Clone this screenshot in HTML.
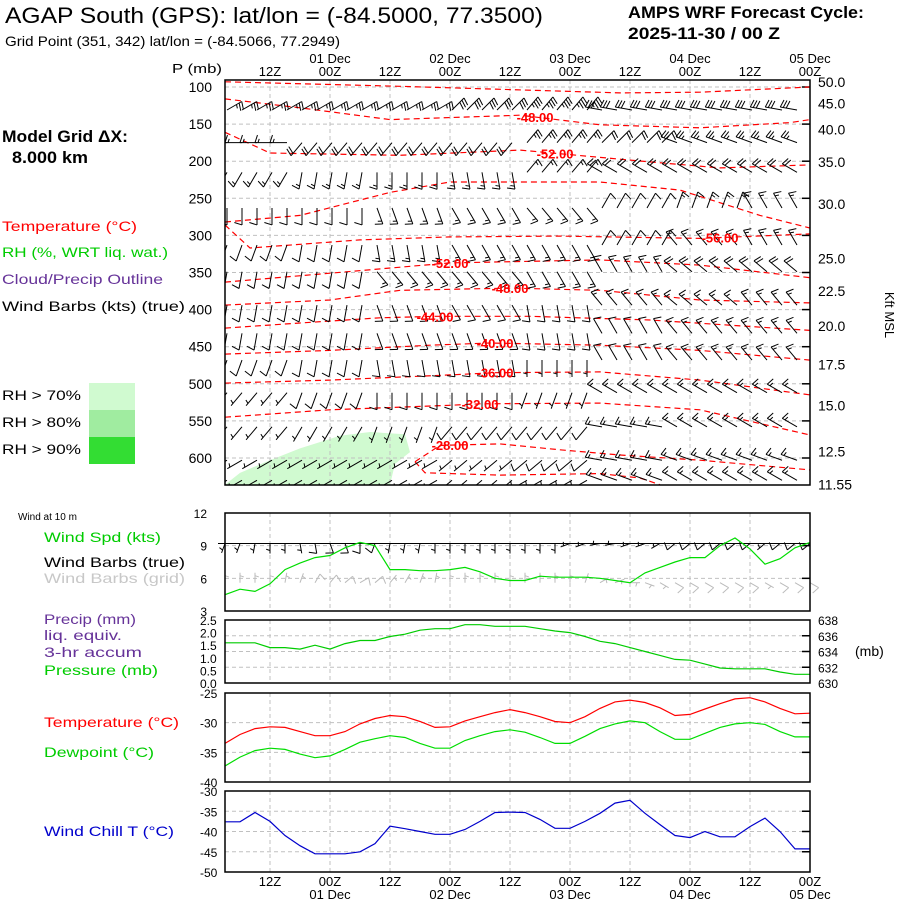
<!DOCTYPE html>
<html><head><meta charset="utf-8"><style>
html,body{margin:0;padding:0;background:#fff;}
svg{display:block;font-family:"Liberation Sans",sans-serif;}
</style></head><body>
<svg id="c" width="900" height="900" viewBox="0 0 900 900" xmlns="http://www.w3.org/2000/svg">
<defs><clipPath id="pclip"><rect x="225" y="80" width="585" height="405"/></clipPath></defs>
<rect width="900" height="900" fill="#fff"/>
<text x="5" y="23" font-size="22" textLength="538" lengthAdjust="spacingAndGlyphs">AGAP South (GPS):  lat/lon = (-84.5000, 77.3500)</text>
<text x="5" y="46" font-size="14" textLength="335" lengthAdjust="spacingAndGlyphs">Grid Point (351, 342) lat/lon = (-84.5066, 77.2949)</text>
<text x="628" y="18" font-size="17" font-weight="bold" textLength="236" lengthAdjust="spacingAndGlyphs">AMPS WRF Forecast Cycle:</text>
<text x="628" y="39" font-size="17" font-weight="bold" textLength="152" lengthAdjust="spacingAndGlyphs">2025-11-30 / 00  Z</text>
<text x="2" y="142" font-size="17" font-weight="bold" textLength="126" lengthAdjust="spacingAndGlyphs">Model Grid ΔX:</text>
<text x="12" y="163" font-size="17" font-weight="bold" textLength="76" lengthAdjust="spacingAndGlyphs">8.000 km</text>
<text x="2" y="231" font-size="14" fill="#ff0000" textLength="135" lengthAdjust="spacingAndGlyphs">Temperature (°C)</text>
<text x="2" y="257" font-size="14" fill="#00cc00" textLength="166" lengthAdjust="spacingAndGlyphs">RH (%, WRT liq. wat.)</text>
<text x="2" y="284" font-size="14" fill="#663399" textLength="161" lengthAdjust="spacingAndGlyphs">Cloud/Precip Outline</text>
<text x="2" y="311" font-size="14" textLength="183" lengthAdjust="spacingAndGlyphs">Wind Barbs (kts) (true)</text>
<g>
<text x="2" y="400" font-size="14" textLength="79" lengthAdjust="spacingAndGlyphs">RH &gt; 70%</text>
<text x="2" y="427" font-size="14" textLength="79" lengthAdjust="spacingAndGlyphs">RH &gt; 80%</text>
<text x="2" y="454" font-size="14" textLength="79" lengthAdjust="spacingAndGlyphs">RH &gt; 90%</text>
<rect x="89" y="383" width="46" height="27" fill="#d0fad0"/>
<rect x="89" y="410" width="46" height="27" fill="#a0eca0"/>
<rect x="89" y="437" width="46" height="27" fill="#33dd33"/>
</g>
<text x="172" y="73" font-size="13" textLength="50" lengthAdjust="spacingAndGlyphs">P (mb)</text>
<text x="885" y="315" font-size="13" transform="rotate(90 885 315)" text-anchor="middle">Kft MSL</text>
<text x="855" y="656" font-size="14">(mb)</text>
<text x="18" y="520" font-size="10">Wind at 10 m</text>
<text x="44" y="542" font-size="14" fill="#00cc00" textLength="117" lengthAdjust="spacingAndGlyphs">Wind Spd (kts)</text>
<text x="44" y="567" font-size="14" textLength="141" lengthAdjust="spacingAndGlyphs">Wind Barbs (true)</text>
<text x="44" y="583" font-size="14" fill="#c8c8c8" textLength="141" lengthAdjust="spacingAndGlyphs">Wind Barbs (grid)</text>
<text x="44" y="624" font-size="14" fill="#663399" textLength="92" lengthAdjust="spacingAndGlyphs">Precip (mm)</text>
<text x="44" y="640" font-size="14" fill="#663399" textLength="78" lengthAdjust="spacingAndGlyphs">liq. equiv.</text>
<text x="44" y="657" font-size="14" fill="#663399" textLength="98" lengthAdjust="spacingAndGlyphs">3-hr accum</text>
<text x="44" y="675" font-size="14" fill="#00cc00" textLength="114" lengthAdjust="spacingAndGlyphs">Pressure (mb)</text>
<text x="44" y="727" font-size="14" fill="#ff0000" textLength="135" lengthAdjust="spacingAndGlyphs">Temperature (°C)</text>
<text x="44" y="757" font-size="14" fill="#00cc00" textLength="110" lengthAdjust="spacingAndGlyphs">Dewpoint (°C)</text>
<text x="44" y="836" font-size="14" fill="#0000cc" textLength="130" lengthAdjust="spacingAndGlyphs">Wind Chill T (°C)</text>
<g id="layer"></g>
</svg>
<script>
// ---- data ----
const hours = [3,6,9,12,15,18,21,24,27,30,33,36,39,42,45,48,51,54,57,60,63,66,69,72,75,78,81,84,87,90,93,96,99,102,105,108,111,114,117,120];
const windSpd = [4.5,5.0,4.8,5.5,6.8,7.4,7.9,8.1,8.8,9.3,9.0,6.8,6.8,6.7,6.7,6.8,7.0,6.6,6.0,5.8,5.8,6.2,6.1,6.1,6.1,6.0,5.8,5.6,6.5,7.0,7.5,7.9,7.9,9.0,9.7,8.7,7.3,7.8,8.8,9.3];
const sfcPres = [635.1,635.1,635.1,634.5,634.5,634.3,634.8,634.3,635.0,635.4,635.4,635.9,636.2,636.7,636.9,636.9,637.4,637.4,637.2,637.2,637.2,636.9,636.6,636.4,635.9,635.3,635.0,634.5,634.0,633.5,633.0,632.9,632.4,631.9,631.8,631.8,631.8,631.4,631.1,631.1];
const sfcTemp = [-33.5,-32,-31,-30.7,-30.8,-31.5,-32.2,-32.2,-31.5,-30.2,-29.3,-28.8,-29,-29.8,-30.8,-30.7,-29.7,-29,-28.3,-27.8,-28.3,-29,-29.8,-30,-29,-27.6,-26.5,-26.2,-26.6,-27.5,-28.8,-28.6,-27.7,-26.8,-26,-25.8,-26.5,-27.6,-28.5,-28.4];
const sfcDew = [-37.3,-35.8,-34.7,-34.3,-34.5,-35.3,-35.9,-35.6,-34.5,-33.3,-32.7,-32.2,-32.5,-33.5,-34.3,-34.3,-33,-32.2,-31.5,-31.2,-31.6,-32.5,-33.5,-33.5,-32.3,-31,-30.2,-29.7,-30,-31.5,-32.8,-32.8,-31.8,-30.8,-30.2,-30,-30.3,-31.5,-32.4,-32.4];
const windChill = [-37.6,-37.6,-35.3,-37.5,-41,-43.5,-45.5,-45.5,-45.5,-45,-43,-38.7,-39.3,-40,-40.7,-40.7,-39.5,-37.5,-35.3,-35.2,-35.3,-37,-39.2,-39.2,-37.5,-35.5,-33,-32.3,-35.5,-38.3,-41,-41.5,-40,-41.3,-41.3,-38.8,-36.7,-40,-44.3,-44.3];
const sfcBarbDir = [200,200,190,180,180,170,170,160,160,180,200,190,190,190,180,180,180,180,180,180,180,180,180,250,250,260,260,250,250,240,230,230,230,230,230,230,230,230,230,230];
const gridBarbDir = [0,0,0,0,10,20,30,40,50,60,50,40,30,20,10,0,0,0,0,0,0,0,0,0,20,60,70,90,110,120,120,120,120,120,120,120,120,120,120,120];
const pLabels = [100,150,200,250,300,350,400,450,500,550,600];
const kftLabels = ["50.0","45.0","40.0","35.0","30.0","25.0","22.5","20.0","17.5","15.0","12.5","11.55"];
const kftPres = [93,122,157,201,258,331,375,422,474,529,591,636];
const contourLevels = ["","-48.00","-52.00","","-56.00","-52.00","-48.00","-44.00","-40.00","-36.00","-32.00","-28.00",""];
const contourT = [[3,38,82,98,120],[3,18,36,62,78,98,116,120],[3,12,38,62,88,102,120],[3,18,36,48,78,94,110,120],[3,8,30,48,70,98,120],[3,24,48,78,98,120],[3,24,38,60,78,98,120],[3,18,34,45,64,88,120],[3,24,44,56,78,98,120],[3,24,48,57,78,98,120],[3,24,48,54,78,98,120],[41,46,58,70,82,98,120],[41,43,58,78,86,90]];
const contourP = [[93,99,108,107,100],[116,128,144,138,151,155,148,144],[161,189,192,185,201,209,205],[282,273,242,228,228,239,273,290],[286,317,306,302,301,304,298],[363,351,337,333,340,357],[394,387,374,371,374,387,391],[425,418,411,409,409,414,428],[460,455,448,445,448,455,468],[499,495,488,485,484,495,515],[545,535,529,527,526,535,569],[605,583,581,589,596,603,616],[605,620,623,621,627,636]];
const labelT = [0,65,69,0,102,48,60,45,57,57,54,48,0];
const rhT = [3,6,12,18,26,32,39,40,37,36,3];
const rhP = [636,620,603,587,570,565,568,592,608,636,636];
const barbRowP = [131,175,215,263,313,349,394,432,468,512,558,603,630];
const barbRowDir = [[60,60,60,45,40,280,280,280],[270,220,220,220,40,45,290,290],[210,190,180,170,40,300,300,300],[180,180,160,150,140,30,20,330],[200,190,170,150,150,30,320,330],[190,190,140,140,150,330,310,310],[190,190,160,150,170,320,310,320],[190,190,160,160,170,330,320,320],[200,190,170,170,180,330,320,320],[220,200,180,180,200,300,300,300],[220,210,200,220,220,280,300,300],[240,240,240,230,230,280,290,290],[240,240,240,230,240,290,300,300]];
const barbRowSpd = [[25,25,25,30,35,30,30,30],[15,20,20,20,25,20,25,25],[15,15,15,15,15,20,20,20],[10,10,15,15,15,10,15,15],[10,10,15,15,15,10,15,15],[10,10,15,15,15,15,20,20],[10,10,10,10,10,15,15,15],[10,10,10,10,10,10,15,15],[10,10,10,10,5,10,15,15],[5,10,10,10,5,15,15,15],[5,5,5,10,10,15,15,15],[5,5,5,5,10,15,15,15],[5,5,5,5,10,15,15,15]];
const tickHours = [12,24,36,48,60,72,84,96,108,120];
const tickNames = ["12Z","00Z","12Z","00Z","12Z","00Z","12Z","00Z","12Z","00Z"];
const dayHours = [24,48,72,96,120];
const dayNames = ["01 Dec","02 Dec","03 Dec","04 Dec","05 Dec"];

// ---- helpers ----
const NS="http://www.w3.org/2000/svg";
const L=document.getElementById('layer');
function mk(tag,attrs,parent){const e=document.createElementNS(NS,tag);for(const k in attrs)e.setAttribute(k,attrs[k]);(parent||L).appendChild(e);return e;}
const X0=225,X1=810;
function xs(t){return X0+(t-3)*(X1-X0)/117;}
function lin(v,v0,v1,y0,y1){return y0+(v-v0)*(y1-y0)/(v1-v0);}
const P={top:80,bot:485};
function yp(p){return lin(p,100,600,87,458);}
const panels={
 wind:{top:513,bot:611,v0:3,v1:12},
 pres:{top:620,bot:683,v0:630,v1:638},
 temp:{top:693,bot:782,v0:-40,v1:-25},
 chill:{top:791,bot:872,v0:-50,v1:-30}
};
function yv(pn,v){const q=panels[pn];return lin(v,q.v0,q.v1,q.bot,q.top);}

function vgrid(top,bot,name){
  tickHours.forEach(h=>{const l=mk('line',{x1:xs(h),x2:xs(h),y1:top,y2:bot,stroke:'#c0c0c0','stroke-dasharray':'4,3'});
  
  });
}
function hgrid(y,name){const l=mk('line',{x1:X0,x2:X1,y1:y,y2:y,stroke:'#c0c0c0','stroke-dasharray':'4,3'});
  
  
  mk('line',{x1:X1-8,x2:X1,y1:y,y2:y,stroke:'#000','stroke-width':1.5});}
function frame(top,bot,name){const r=mk('rect',{x:X0,y:top,width:X1-X0,height:bot-top,fill:'none',stroke:'#000','stroke-width':1.5});
  
  }
function txt(x,y,s,attrs,name){const t=mk('text',Object.assign({x:x,y:y,'font-size':13},attrs||{}));t.textContent=s;
  
  return t;}
function line(ts,vs,fy,color,name,parent){const d=ts.map((t,i)=>(i?'L':'M')+xs(t).toFixed(1)+' '+fy(vs[i]).toFixed(1)).join(' ');
  const p=mk('path',{d:d,fill:'none',stroke:color,'stroke-width':1.2},parent);
  
  return p;}

function barb(x,y,dir,spd,color,len,g){
  const r=dir*Math.PI/180, dx=Math.sin(r), dy=-Math.cos(r);
  const ex=x+dx*len, ey=y+dy*len;
  mk('line',{x1:x,y1:y,x2:ex,y2:ey,stroke:color,'stroke-width':1},g);
  const fr=r+Math.PI*0.6, fx=Math.sin(fr), fy=-Math.cos(fr);
  let s=Math.round(spd/5)*5, pos=0;
  while(s>=10){const bx=ex-dx*pos,by=ey-dy*pos;mk('line',{x1:bx,y1:by,x2:bx+fx*8,y2:by+fy*8,stroke:color,'stroke-width':1},g);pos+=3;s-=10;}
  if(s>=5){if(pos===0)pos=3;const bx=ex-dx*pos,by=ey-dy*pos;mk('line',{x1:bx,y1:by,x2:bx+fx*4,y2:by+fy*4,stroke:color,'stroke-width':1},g);}
}

// ---- top panel ----
const rh=mk('polygon',{points:rhT.map((t,i)=>xs(t)+','+Math.min(485,yp(rhP[i]))).join(' '),fill:'#d0fad0'});


vgrid(P.top,P.bot,'profile');
pLabels.forEach(p=>{hgrid(yp(p),'profile');txt(212,yp(p)+5,String(p),{'text-anchor':'end','font-size':14},'pressure-tick-label');});
kftLabels.forEach((s,i)=>txt(818,yp(kftPres[i])+5,s,{'font-size':14},'kft-tick-label'));
tickHours.forEach((h,i)=>{txt(xs(h),76,tickNames[i],{'text-anchor':'middle','font-size':13},'top-hour-label');});
dayHours.forEach((h,i)=>txt(xs(h),63,dayNames[i],{'text-anchor':'middle','font-size':13},'top-day-label'));

const cg=mk('g',{'clip-path':'url(#pclip)'});


contourT.forEach((ts,i)=>{
  const p=line(ts,contourP[i],v=>yp(v),'#ff0000','temp-contour',cg);
  p.setAttribute('stroke-dasharray','6,4');
});
const bg=mk('g',{'clip-path':'url(#pclip)'});


barbRowP.forEach((p,ri)=>{
  hours.forEach(t=>{const k=Math.min(7,Math.floor((t-3)/15));
    if(t>117) return;
    barb(xs(t)+2,yp(p),barbRowDir[ri][k],barbRowSpd[ri][k],'#000',17,bg);});
});
contourLevels.forEach((s,i)=>{
  if(!s) return;
  const t=labelT[i]; const ts=contourT[i], ps=contourP[i];
  let p=ps[0]; for(let j=1;j<ts.length;j++){if(t<=ts[j]){p=ps[j-1]+(ps[j]-ps[j-1])*(t-ts[j-1])/(ts[j]-ts[j-1]);break;}}
  txt(xs(t),yp(p)+5,s,{'text-anchor':'middle','font-size':13,'font-weight':'bold',fill:'#ff0000'},'contour-label');
});
frame(P.top,P.bot,'profile');

// ---- wind panel ----
vgrid(panels.wind.top,panels.wind.bot,'wind');
[6,9].forEach(v=>hgrid(yv('wind',v),'wind'));
[12,9,6,3].forEach(v=>txt(207,yv('wind',v)+5,String(v),{'text-anchor':'end','font-size':12},'wind-tick-label'));
const gb=mk('g',{});


hours.forEach((t,i)=>barb(xs(t),yv('wind',5.6),gridBarbDir[i],windSpd[i],'#bbbbbb',10,gb));
const sb=mk('g',{});


mk('line',{x1:218,x2:X1,y1:yv('wind',9.2),y2:yv('wind',9.2),stroke:'#000','stroke-width':1},sb);
hours.forEach((t,i)=>barb(xs(t),yv('wind',9.2),sfcBarbDir[i],windSpd[i],'#000',10,sb));
line(hours,windSpd,v=>yv('wind',v),'#00dd00','wind-speed-line');
frame(panels.wind.top,panels.wind.bot,'wind');

// ---- pressure panel ----
vgrid(panels.pres.top,panels.pres.bot,'pres');
[632,634,636].forEach(v=>hgrid(yv('pres',v),'pres'));
["2.5","2.0","1.5","1.0","0.5","0.0"].forEach((s,i)=>txt(200,lin(i,0,5,panels.pres.top,panels.pres.bot)+5,s,{'font-size':12},'precip-tick-label'));
[638,636,634,632,630].forEach(v=>txt(818,yv('pres',v)+5,String(v),{'font-size':12},'pressure-tick-label'));
line(hours,sfcPres,v=>yv('pres',v),'#00cc00','pressure-line');
frame(panels.pres.top,panels.pres.bot,'pres');

// ---- temp panel ----
vgrid(panels.temp.top,panels.temp.bot,'temp');
[-30,-35].forEach(v=>hgrid(yv('temp',v),'temp'));
[-25,-30,-35,-40].forEach(v=>txt(200,yv('temp',v)+5,String(v),{'font-size':12},'temp-tick-label'));
line(hours,sfcTemp,v=>yv('temp',v),'#ff0000','temperature-line');
line(hours,sfcDew,v=>yv('temp',v),'#00dd00','dewpoint-line');
frame(panels.temp.top,panels.temp.bot,'temp');

// ---- wind chill ----
vgrid(panels.chill.top,panels.chill.bot,'chill');
[-35,-40,-45].forEach(v=>hgrid(yv('chill',v),'chill'));
[-30,-35,-40,-45,-50].forEach(v=>txt(200,yv('chill',v)+5,String(v),{'font-size':12},'chill-tick-label'));
line(hours,windChill,v=>yv('chill',v),'#0000cc','wind-chill-line');
frame(panels.chill.top,panels.chill.bot,'chill');
tickHours.forEach((h,i)=>txt(xs(h),886,tickNames[i],{'text-anchor':'middle','font-size':13},'bottom-hour-label'));
dayHours.forEach((h,i)=>txt(xs(h),899,dayNames[i],{'text-anchor':'middle','font-size':13},'bottom-day-label'));
</script>
</body></html>
